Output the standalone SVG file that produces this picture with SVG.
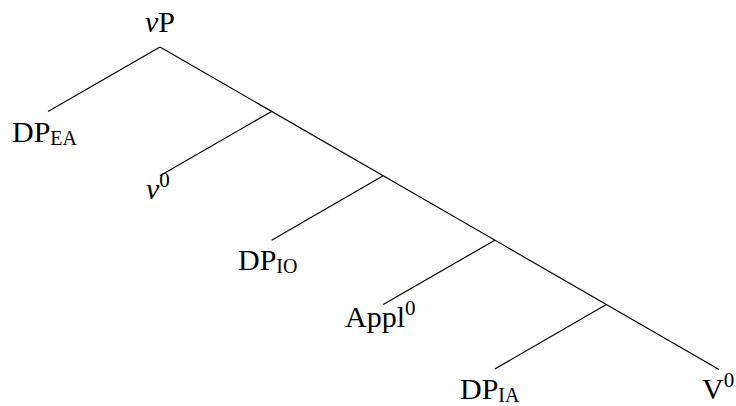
<svg xmlns="http://www.w3.org/2000/svg" width="736" height="406" viewBox="0 0 736 406">
<style>
.lbl{font-family:"Liberation Serif","Times New Roman",serif;font-size:30px;fill:#000}
.sub{font-size:20px}
.sup{font-size:21px}
.it{font-style:italic}
.edge{stroke:#000;stroke-width:1.2;fill:none}
</style>
<rect width="736" height="406" fill="#fff"/>
<g id="connectors" class="edge">
<line x1="160" y1="47" x2="48" y2="111.4"/>
<line x1="160" y1="47" x2="719" y2="369.5"/>
<line x1="271.6" y1="111.4" x2="160" y2="175.8"/>
<line x1="383.2" y1="175.8" x2="271.6" y2="240.2"/>
<line x1="494.8" y1="240.2" x2="383.2" y2="304.6"/>
<line x1="606.4" y1="304.6" x2="494.8" y2="369"/>
</g>
<g id="vP"><text class="lbl" x="160" y="32" text-anchor="middle"><tspan class="it">v</tspan>P</text></g>
<g id="DP_EA"><text class="lbl" x="12" y="142">DP<tspan class="sub" dy="3">EA</tspan></text></g>
<g id="v0"><text class="lbl" x="146" y="199"><tspan class="it">v</tspan><tspan class="sup" dy="-12">0</tspan></text></g>
<g id="DP_IO"><text class="lbl" x="238" y="270">DP<tspan class="sub" dy="3">IO</tspan></text></g>
<g id="Appl0"><text class="lbl" x="345" y="327">Appl<tspan class="sup" dy="-12">0</tspan></text></g>
<g id="DP_IA"><text class="lbl" x="460" y="399">DP<tspan class="sub" dy="3">IA</tspan></text></g>
<g id="V0"><text class="lbl" x="702" y="399">V<tspan class="sup" dy="-12">0</tspan></text></g>
</svg>
